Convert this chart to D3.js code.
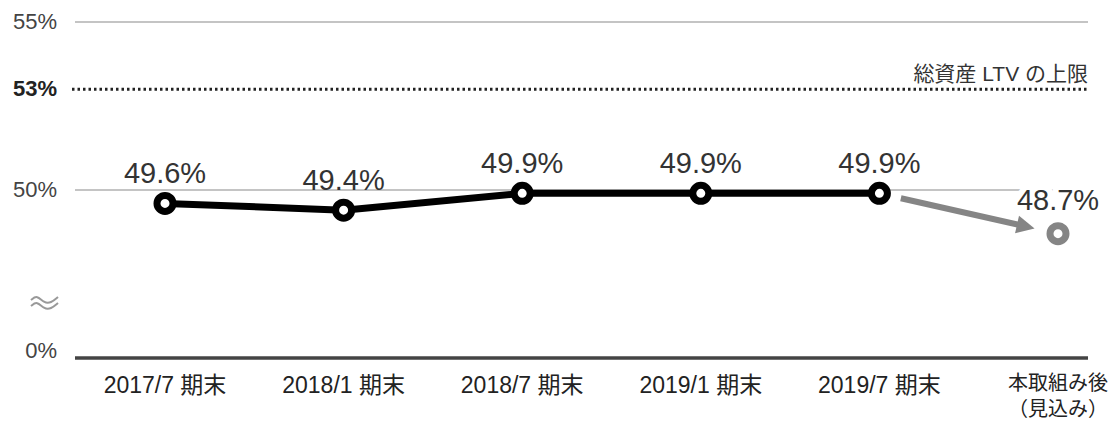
<!DOCTYPE html>
<html>
<head>
<meta charset="utf-8">
<script src="https://cdn.jsdelivr.net/npm/d3@7"></script>
<style>
  body { margin: 0; background: #fff; }
  text { font-family: "Liberation Sans", Arial, "Noto Sans CJK JP", sans-serif; }
</style>
</head>
<body>
<script>
// data
var periods = ["2017/7 期末", "2018/1 期末", "2018/7 期末", "2019/1 期末", "2019/7 期末", "本取組み後"];
var ltv = [49.6, 49.4, 49.9, 49.9, 49.9];
var projected = 48.7;
var lastLabel = ["本取組み後", "（見込み）"];
var yTicks = [45, 50, 55];          // 45 is the axis floor, shown as 0% (broken axis)
var yTickLabels = ["0%", "50%", "55%"];
var capValue = 53;
var capLabel = "総資産 LTV の上限";

var width = 1117, height = 421;
var left = 75, right = 1088;

var svg = d3.select('body').append('svg')
    .attr('width', width)
    .attr('height', height);

var xScale = d3.scalePoint()
    .domain(periods)
    .range([165, 1058]);

var yScale = d3.scaleLinear()
    .domain([45, 55])
    .range([358, 22]);

// gridlines
svg.append('g').selectAll('line')
    .data(yTicks.filter(function(d) { return d > 45; }))
    .enter().append('line')
    .attr('x1', left).attr('x2', right)
    .attr('y1', function(d) { return yScale(d); })
    .attr('y2', function(d) { return yScale(d); })
    .attr('stroke', '#b0b0b0')
    .attr('stroke-width', 1.5);

// y tick labels
svg.append('g').selectAll('text')
    .data(yTicks)
    .enter().append('text')
    .attr('x', 57)
    .attr('y', function(d, i) { return yScale(d) + (i == 0 ? -6 : 1); })
    .attr('text-anchor', 'end')
    .attr('dominant-baseline', 'middle')
    .attr('font-size', 22)
    .attr('fill', '#444')
    .text(function(d, i) { return yTickLabels[i]; });

// 53% cap (dotted)
svg.append('line')
    .attr('x1', left - 3).attr('x2', right)
    .attr('y1', yScale(capValue)).attr('y2', yScale(capValue))
    .attr('stroke', '#222')
    .attr('stroke-width', 3)
    .attr('stroke-dasharray', '2.5,3');

svg.append('text')
    .attr('x', 57)
    .attr('y', yScale(capValue) + 1)
    .attr('text-anchor', 'end')
    .attr('dominant-baseline', 'middle')
    .attr('font-size', 22)
    .attr('font-weight', 'bold')
    .attr('fill', '#222')
    .text(capValue + '%');

svg.append('text')
    .attr('x', right)
    .attr('y', yScale(capValue) - 8)
    .attr('text-anchor', 'end')
    .attr('font-size', 21)
    .attr('fill', '#333')
    .text(capLabel);

// break mark (≈)
var wave = d3.line().curve(d3.curveBasis);
[0, 6].forEach(function(off) {
    var y0 = (yScale(50) + yScale(45)) / 2 + 26 + off;
    svg.append('path')
        .attr('d', wave([[31, y0], [37, y0 - 5], [44, y0 + 3], [51, y0 + 3], [58, y0 - 3]]))
        .attr('fill', 'none')
        .attr('stroke', '#999')
        .attr('stroke-width', 2);
});

// baseline axis
svg.append('line')
    .attr('x1', left).attr('x2', right)
    .attr('y1', yScale(45)).attr('y2', yScale(45))
    .attr('stroke', '#444')
    .attr('stroke-width', 3.5);

// x labels
svg.append('g').selectAll('text')
    .data(periods.slice(0, ltv.length))
    .enter().append('text')
    .attr('x', function(d) { return xScale(d); })
    .attr('y', yScale(45) + 35)
    .attr('text-anchor', 'middle')
    .attr('font-size', 23)
    .attr('fill', '#222')
    .text(function(d) { return d; });

svg.append('g').selectAll('text')
    .data(lastLabel)
    .enter().append('text')
    .attr('x', xScale(periods[periods.length - 1]))
    .attr('y', function(d, i) { return yScale(45) + 32 + i * 26; })
    .attr('text-anchor', 'middle')
    .attr('font-size', 20)
    .attr('fill', '#222')
    .text(function(d) { return d; });

// arrow to projected value
var p0 = [xScale(periods[4]), yScale(ltv[4])];
var p1 = [xScale(periods[5]), yScale(projected)];
var dx = p1[0] - p0[0], dy = p1[1] - p0[1];
var len = Math.sqrt(dx * dx + dy * dy);
var ux = dx / len, uy = dy / len;
var a0 = [p0[0] + ux * 22, p0[1] + uy * 22];
var tip = [p1[0] - ux * 24, p1[1] - uy * 24];
var base = [tip[0] - ux * 18, tip[1] - uy * 18];

svg.append('line')
    .attr('x1', a0[0]).attr('y1', a0[1])
    .attr('x2', base[0] + ux * 2).attr('y2', base[1] + uy * 2)
    .attr('stroke', '#858585')
    .attr('stroke-width', 6);

svg.append('path')
    .attr('d', 'M' + tip + 'L' + [base[0] - uy * 9, base[1] + ux * 9] + 'L' + [base[0] + uy * 9, base[1] - ux * 9] + 'Z')
    .attr('fill', '#858585');

// main line
var line = d3.line()
    .x(function(d, i) { return xScale(periods[i]); })
    .y(function(d) { return yScale(d); });

svg.append('path')
    .attr('d', line(ltv))
    .attr('fill', 'none')
    .attr('stroke', '#000')
    .attr('stroke-width', 7);

svg.append('g').selectAll('circle')
    .data(ltv)
    .enter().append('circle')
    .attr('cx', function(d, i) { return xScale(periods[i]); })
    .attr('cy', function(d) { return yScale(d); })
    .attr('r', 8)
    .attr('fill', '#fff')
    .attr('stroke', '#000')
    .attr('stroke-width', 7);

svg.append('circle')
    .attr('cx', p1[0]).attr('cy', p1[1])
    .attr('r', 8)
    .attr('fill', '#fff')
    .attr('stroke', '#858585')
    .attr('stroke-width', 7);

// value labels
svg.append('g').selectAll('text')
    .data(ltv)
    .enter().append('text')
    .attr('x', function(d, i) { return xScale(periods[i]); })
    .attr('y', function(d) { return yScale(d) - 20; })
    .attr('text-anchor', 'middle')
    .attr('font-size', 29)
    .attr('fill', '#333')
    .text(function(d) { return d.toFixed(1) + '%'; });

svg.append('text')
    .attr('x', p1[0])
    .attr('y', p1[1] - 24)
    .attr('text-anchor', 'middle')
    .attr('font-size', 29)
    .attr('fill', '#333')
    .attr('stroke', '#fff')
    .attr('stroke-width', 12)
    .attr('paint-order', 'stroke')
    .text(projected.toFixed(1) + '%');
</script>
</body>
</html>
